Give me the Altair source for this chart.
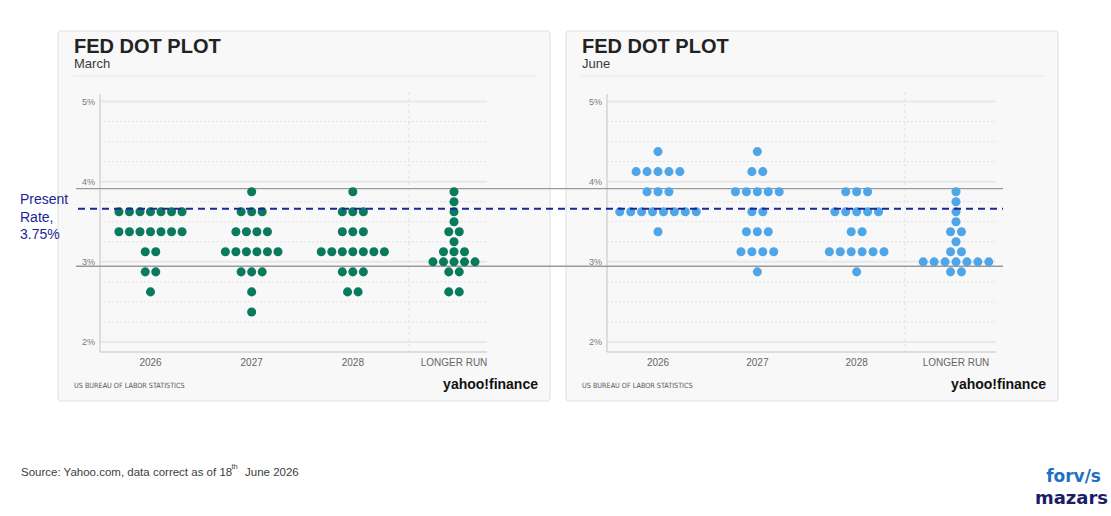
import altair as alt
import pandas as pd

# ---------------- data ----------------
CATEGORIES = ["2026", "2027", "2028", "LONGER RUN"]

MARCH_RATES = {
    "2026": [3.625, 3.375, 3.125, 2.875, 2.625],
    "2027": [3.875, 3.625, 3.375, 3.125, 2.875, 2.625, 2.375],
    "2028": [3.875, 3.625, 3.375, 3.125, 2.875, 2.625],
    "LONGER RUN": [3.875, 3.75, 3.625, 3.5, 3.375, 3.25, 3.125, 3.0, 2.875, 2.625],
}
MARCH_COUNTS = {
    "2026": [7, 7, 2, 2, 1],
    "2027": [1, 3, 4, 6, 3, 1, 1],
    "2028": [1, 3, 3, 7, 3, 2],
    "LONGER RUN": [1, 1, 1, 1, 2, 1, 3, 5, 2, 2],
}
JUNE_RATES = {
    "2026": [4.375, 4.125, 3.875, 3.625, 3.375],
    "2027": [4.375, 4.125, 3.875, 3.625, 3.375, 3.125, 2.875],
    "2028": [3.875, 3.625, 3.375, 3.125, 2.875],
    "LONGER RUN": [3.875, 3.75, 3.625, 3.5, 3.375, 3.25, 3.125, 3.0, 2.875],
}
JUNE_COUNTS = {
    "2026": [1, 5, 3, 8, 1],
    "2027": [1, 2, 5, 2, 3, 4, 1],
    "2028": [3, 5, 2, 6, 1],
    "LONGER RUN": [1, 1, 1, 1, 2, 1, 2, 7, 2],
}

Y_TICKS = [2, 3, 4, 5]
Y_TICK_LABELS = ["2%", "3%", "4%", "5%"]
MINOR_GRID = [2.25, 2.5, 2.75, 3.25, 3.5, 3.75, 4.25, 4.5, 4.75]
OVERLAY_GRAY = [3.912, 2.945]   # reference lines drawn across both panels
PRESENT_LINE = [3.661]          # dashed "present rate" line
PRESENT_TEXT = ["Present", "Rate,", "3.75%"]

GREEN = "#0a7a5d"
BLUE = "#4ea6e8"
NAVY = "#1c2596"
FONT = "Liberation Sans"
COND = '"DejaVu Sans Condensed", "Liberation Sans", sans-serif'

YS = alt.Scale(domain=[2, 5], range=[342, 101.5], zero=False, nice=False)


def expand(rates, counts, step):
    rows = []
    for ci, cat in enumerate(CATEGORIES):
        for r, n in zip(rates[cat], counts[cat]):
            for k in range(n):
                rows.append({"cat": cat, "rate": r, "pos": ci + (k - (n - 1) / 2) * step})
    return pd.DataFrame(rows)


one = pd.DataFrame({"k": [0]})
cats_df = pd.DataFrame({"cat": CATEGORIES, "ci": list(range(len(CATEGORIES)))})
ticks_df = pd.DataFrame({"v": Y_TICKS, "lab": Y_TICK_LABELS})
minor_df = pd.DataFrame({"v": MINOR_GRID})


def panel(subtitle, x0, xr, axis_x, plot_right, sep_x):
    xs = alt.Scale(domain=[0, 3], range=xr, zero=False, nice=False)
    layers = []
    # card
    layers.append(alt.Chart(one).mark_rect(fill="#f8f8f8", stroke="#dedede", strokeWidth=1, cornerRadius=3).encode(
        x=alt.value(x0), x2=alt.value(x0 + 492), y=alt.value(31), y2=alt.value(401)))
    # title
    layers.append(alt.Chart(one).mark_text(text="FED DOT PLOT", font=FONT, fontSize=20, fontWeight="bold",
                                           color="#222222", align="left", baseline="middle").encode(
        x=alt.value(x0 + 16), y=alt.value(47)))
    layers.append(alt.Chart(one).mark_text(text=subtitle, font=FONT, fontSize=13, color="#3a3a3a",
                                           align="left", baseline="middle").encode(
        x=alt.value(x0 + 16), y=alt.value(63.5)))
    layers.append(alt.Chart(one).mark_rule(color="#e6e6e6", strokeWidth=1).encode(
        x=alt.value(x0 + 15), x2=alt.value(x0 + 479), y=alt.value(76)))
    # grid
    layers.append(alt.Chart(minor_df).mark_rule(color="#e2e2e2", strokeWidth=1, strokeDash=[2, 2]).encode(
        y=alt.Y("v:Q", scale=YS, axis=None), x=alt.value(axis_x), x2=alt.value(plot_right)))
    layers.append(alt.Chart(ticks_df).mark_rule(color="#e8e8e8", strokeWidth=2).encode(
        y=alt.Y("v:Q", scale=YS, axis=None), x=alt.value(axis_x), x2=alt.value(plot_right)))
    # separator before LONGER RUN
    layers.append(alt.Chart(one).mark_rule(color="#e0e0e0", strokeWidth=1, strokeDash=[3, 3]).encode(
        x=alt.value(sep_x), y=alt.value(92), y2=alt.value(352)))
    # axis lines
    layers.append(alt.Chart(one).mark_rule(color="#d4d4d4", strokeWidth=1.5).encode(
        x=alt.value(axis_x), y=alt.value(94), y2=alt.value(352)))
    layers.append(alt.Chart(one).mark_rule(color="#d4d4d4", strokeWidth=1.5).encode(
        x=alt.value(axis_x), x2=alt.value(plot_right), y=alt.value(352)))
    # y labels
    layers.append(alt.Chart(ticks_df).mark_text(font=FONT, fontSize=9, color="#7a7a7a", align="right",
                                                baseline="middle").encode(
        y=alt.Y("v:Q", scale=YS, axis=None), x=alt.value(axis_x - 5), text="lab:N"))
    # x labels
    layers.append(alt.Chart(cats_df).mark_text(font=FONT, fontSize=10, color="#666666", align="center",
                                               baseline="middle").encode(
        x=alt.X("ci:Q", scale=xs, axis=None), y=alt.value(363), text="cat:N"))
    # footer
    layers.append(alt.Chart(one).mark_text(text="US BUREAU OF LABOR STATISTICS", font=COND,
                                           fontSize=7.2, color="#555555", align="left", baseline="middle").encode(
        x=alt.value(x0 + 16), y=alt.value(386)))
    layers.append(alt.Chart(one).mark_text(text="yahoo!finance", font=FONT, fontSize=14, fontWeight="bold",
                                           color="#111111", align="right", baseline="middle").encode(
        x=alt.value(x0 + 480), y=alt.value(385)))
    return layers, xs


march_df = expand(MARCH_RATES, MARCH_COUNTS, 0.104)
june_df = expand(JUNE_RATES, JUNE_COUNTS, 0.11)

left_layers, xs_left = panel("March", 58, [150.5, 454], 100, 487, 409)
right_layers, xs_right = panel("June", 566, [658, 956], 607, 996, 905)

gray_lines = alt.Chart(pd.DataFrame({"v": OVERLAY_GRAY})).mark_rule(color="#9a9a9a", strokeWidth=1.3).encode(
    y=alt.Y("v:Q", scale=YS, axis=None), x=alt.value(76), x2=alt.value(1003))

dots_left = alt.Chart(march_df).mark_circle(size=82, opacity=1, color=GREEN).encode(
    x=alt.X("pos:Q", scale=xs_left, axis=None), y=alt.Y("rate:Q", scale=YS, axis=None))
dots_right = alt.Chart(june_df).mark_circle(size=82, opacity=1, color=BLUE).encode(
    x=alt.X("pos:Q", scale=xs_right, axis=None), y=alt.Y("rate:Q", scale=YS, axis=None))

dashed = alt.Chart(pd.DataFrame({"v": PRESENT_LINE})).mark_rule(color=NAVY, strokeWidth=2, strokeDash=[7, 5]).encode(
    y=alt.Y("v:Q", scale=YS, axis=None), x=alt.value(78), x2=alt.value(1003))

present = alt.Chart(one).mark_text(text=PRESENT_TEXT, font=FONT, fontSize=14, color=NAVY, align="left",
                                   baseline="top", lineHeight=17.5).encode(x=alt.value(20), y=alt.value(193))

src1 = alt.Chart(one).mark_text(text="Source: Yahoo.com, data correct as of 18", font=FONT, fontSize=11.5,
                                color="#404040", align="left", baseline="middle").encode(
    x=alt.value(21), y=alt.value(472.5))
src2 = alt.Chart(one).mark_text(text="th", font=FONT, fontSize=7.5, color="#404040", align="left",
                                baseline="middle").encode(x=alt.value(231.5), y=alt.value(467))
src3 = alt.Chart(one).mark_text(text="June 2026", font=FONT, fontSize=11.5, color="#404040", align="left",
                                baseline="middle").encode(x=alt.value(245), y=alt.value(472.5))

logo1 = alt.Chart(one).mark_text(text="forv/s", font="DejaVu Sans", fontSize=17, fontWeight="bold",
                                 color="#1f6fc6", align="right", baseline="alphabetic").encode(
    x=alt.value(1101), y=alt.value(482))
logo2 = alt.Chart(one).mark_text(text="mazars", font="DejaVu Sans", fontSize=18, fontWeight="bold",
                                 color="#1b1d6b", align="right", baseline="alphabetic").encode(
    x=alt.value(1108), y=alt.value(504))

chart = alt.layer(
    *left_layers, *right_layers, gray_lines, dots_left, dots_right, dashed, present,
    src1, src2, src3, logo1, logo2
).resolve_scale(x="independent", y="shared").properties(
    width=1111, height=516, autosize=alt.AutoSizeParams(type="none"), padding=0, background="white"
).configure_view(stroke=None)

chart.save("out.html", embed_options={"renderer": "svg", "actions": False})
